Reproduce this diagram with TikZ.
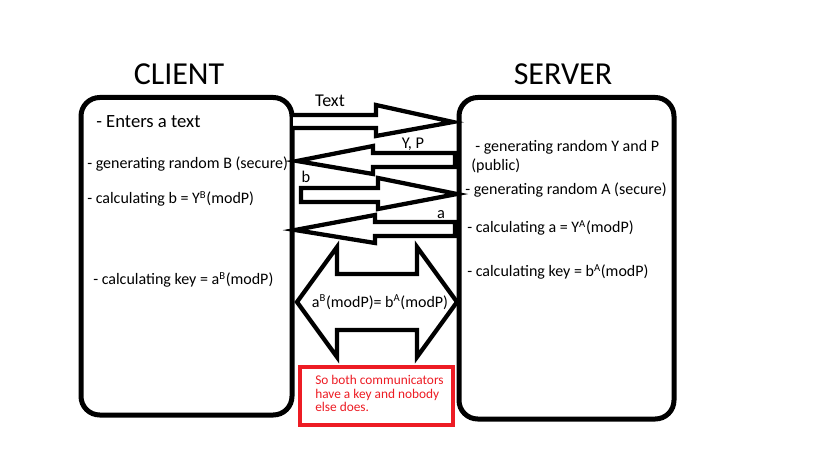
\documentclass[tikz,border=0pt]{standalone}
\usepackage{fontspec}
\setmainfont{Carlito}
\definecolor{paintred}{RGB}{237,28,36}
\begin{document}
\begin{tikzpicture}[x=0.75pt,y=-0.75pt,
  box/.style={draw=black,line width=3.75pt,rounded corners=14pt,fill=white},
  blockarrow/.style={draw=black,line width=3.2pt,fill=white,line join=miter},
  title/.style={font=\fontsize{24pt}{28pt}\selectfont,inner sep=0pt},
  desc/.style={font=\fontsize{12pt}{14pt}\selectfont,anchor=west,inner sep=0pt},
  lbl/.style={font=\fontsize{12.3pt}{14pt}\selectfont,inner sep=0pt},
  note/.style={text=paintred,font=\fontsize{10pt}{10.2pt}\selectfont,align=left,inner sep=0pt}]
\useasboundingbox[fill=white] (0,0) rectangle (819,460);
% boxes
\draw[box] (81,97.5) rectangle (292,415);
\draw[box] (459,97.5) rectangle (674,419);
\node[title] (clienttitle) at (179,74) {CLIENT};
\node[title] (servertitle) at (563,74) {SERVER};
% arrow Text (right)
\draw[blockarrow] (293,115) -- (376,115) -- (376,105) -- (453,122) -- (376,136) -- (376,128) -- (293,128);
% arrow Y,P (left)
\draw[blockarrow] (455,153) -- (373,153) -- (373,146) -- (297,161) -- (373,174) -- (373,167) -- (455,167) -- cycle;
% arrow b (right)
\draw[blockarrow] (301,188) -- (378,188) -- (378,178) -- (457,194) -- (378,209) -- (378,202) -- (301,202) -- cycle;
% arrow a (left)
\draw[blockarrow] (455,222) -- (375,222) -- (375,215) -- (295,230) -- (375,243) -- (375,236) -- (455,236) -- cycle;
% double arrow
\draw[blockarrow] (297,302) -- (337,247) -- (337,274) -- (417,274) -- (417,247) -- (457,302) -- (417,357) -- (417,330) -- (337,330) -- (337,357) -- cycle;
% arrow labels
\node[lbl,font=\fontsize{13.5pt}{15pt}\selectfont] (ltext) at (330,101) {Text};
\node[lbl] (lyp) at (413,144) {Y, P};
\node[lbl] (lb) at (306,177) {b};
\node[lbl] (la) at (441,215) {a};
\node[lbl,font=\fontsize{12pt}{14pt}\selectfont] (leq) at (380,302) {a\textsuperscript{B}(modP)= b\textsuperscript{A}(modP)};
% client texts
\node[desc,font=\fontsize{14pt}{16pt}\selectfont] (c1) at (96,122) {- Enters a text};
\node[desc] (c2) at (87,164) {- generating random B (secure)};
\node[desc] (c3) at (87,199) {- calculating b = Y\textsuperscript{B}(modP)};
\node[desc] (c4) at (93,280) {- calculating key = a\textsuperscript{B}(modP)};
% server texts
\node[desc] (s1) at (475,147) {- generating random Y and P};
\node[desc] (s1b) at (471,166) {(public)};
\node[desc] (s2) at (465,190) {- generating random A (secure)};
\node[desc] (s3) at (467,228) {- calculating a = Y\textsuperscript{A}(modP)};
\node[desc] (s4) at (467,272) {- calculating key = b\textsuperscript{A}(modP)};
% note
\draw[draw=paintred,line width=3pt] (300,367) rectangle (453,425);
\node[note,anchor=north west] (note) at (315,375) {So both communicators\\have a key and nobody\\else does.};
\end{tikzpicture}
\end{document}
